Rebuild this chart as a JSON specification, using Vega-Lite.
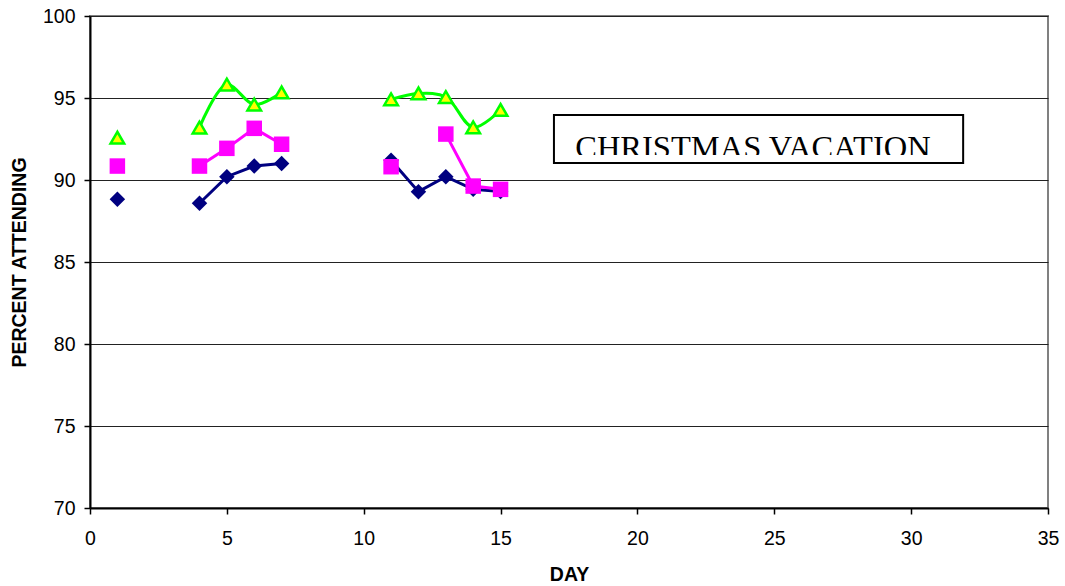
{
  "$schema": "https://vega.github.io/schema/vega-lite/v6.json",
  "width": 958,
  "height": 492,
  "autosize": {"type": "none"},
  "padding": {"left": 90, "top": 16, "right": 17, "bottom": 78},
  "background": "white",
  "config": {
    "font": "Liberation Sans",
    "view": {"stroke": "#808080", "strokeWidth": 2},
    "axis": {
      "labelFont": "Liberation Sans",
      "titleFont": "Liberation Sans",
      "labelColor": "#000000",
      "titleColor": "#000000",
      "domainColor": "#000000",
      "tickColor": "#000000",
      "domainWidth": 2,
      "tickWidth": 1.5,
      "tickSize": 6,
      "labelFontSize": 19.5,
      "titleFontSize": 19.5,
      "titleFontWeight": "bold"
    }
  },
  "datasets": {
    "att": [
      {"series": "A", "seg": "a", "day": 1, "pct": 88.83},
      {"series": "A", "seg": "b", "day": 4, "pct": 88.58},
      {"series": "A", "seg": "b", "day": 5, "pct": 90.2},
      {"series": "A", "seg": "b", "day": 6, "pct": 90.85},
      {"series": "A", "seg": "b", "day": 7, "pct": 91.01},
      {"series": "A", "seg": "c", "day": 11, "pct": 91.2},
      {"series": "A", "seg": "c", "day": 12, "pct": 89.29},
      {"series": "A", "seg": "c", "day": 13, "pct": 90.2},
      {"series": "A", "seg": "c", "day": 14, "pct": 89.43},
      {"series": "A", "seg": "c", "day": 15, "pct": 89.3},
      {"series": "B", "seg": "a", "day": 1, "pct": 90.85},
      {"series": "B", "seg": "b", "day": 4, "pct": 90.85},
      {"series": "B", "seg": "b", "day": 5, "pct": 91.93},
      {"series": "B", "seg": "b", "day": 6, "pct": 93.15},
      {"series": "B", "seg": "b", "day": 7, "pct": 92.18},
      {"series": "B", "seg": "c1", "day": 11, "pct": 90.81},
      {"series": "B", "seg": "c2", "day": 13, "pct": 92.8},
      {"series": "B", "seg": "c2", "day": 14, "pct": 89.63},
      {"series": "B", "seg": "c2", "day": 15, "pct": 89.43},
      {"series": "C", "seg": "a", "day": 1, "pct": 92.58},
      {"series": "C", "seg": "b", "day": 4, "pct": 93.2},
      {"series": "C", "seg": "b", "day": 5, "pct": 95.82},
      {"series": "C", "seg": "b", "day": 6, "pct": 94.6},
      {"series": "C", "seg": "b", "day": 7, "pct": 95.34},
      {"series": "C", "seg": "c", "day": 11, "pct": 94.92},
      {"series": "C", "seg": "c", "day": 12, "pct": 95.28},
      {"series": "C", "seg": "c", "day": 13, "pct": 95.06},
      {"series": "C", "seg": "c", "day": 14, "pct": 93.21},
      {"series": "C", "seg": "c", "day": 15, "pct": 94.27}
    ],
    "note": [
      {"x1": 16.95, "x2": 31.9, "y1": 93.96, "y2": 91.04, "cx1": 17.03, "cx2": 31.82, "cy1": 91.53, "cy2": 91.1, "tx": 24.22, "ty": 91.37, "label": "CHRISTMAS VACATION"}
    ]
  },
  "layer": [
    {
      "data": {"name": "att"},
      "transform": [{"filter": "datum.series === 'A'"}],
      "mark": {"type": "line", "strokeWidth": 3, "color": "#000080"},
      "encoding": {
        "x": {
          "field": "day", "type": "quantitative",
          "scale": {"domain": [0, 35], "nice": false, "zero": false},
          "axis": {"values": [0, 5, 10, 15, 20, 25, 30, 35], "grid": false, "title": "DAY", "labelPadding": 15, "titlePadding": 17.5, "labelFlush": false}
        },
        "y": {
          "field": "pct", "type": "quantitative",
          "scale": {"domain": [70, 100], "nice": false, "zero": false},
          "axis": {"values": [70, 75, 80, 85, 90, 95, 100], "grid": true, "gridColor": "#222222", "gridWidth": 1, "title": "PERCENT ATTENDING", "labelPadding": 9, "titlePadding": 13, "labelFlush": false}
        },
        "detail": {"field": "seg"}
      }
    },
    {
      "data": {"name": "att"},
      "transform": [{"filter": "datum.series === 'A'"}],
      "mark": {"type": "point", "shape": "diamond", "filled": true, "size": 240, "color": "#000080", "opacity": 1},
      "encoding": {
        "x": {"field": "day", "type": "quantitative", "title": "DAY"},
        "y": {"field": "pct", "type": "quantitative", "title": "PERCENT ATTENDING"}
      }
    },
    {
      "data": {"name": "att"},
      "transform": [{"filter": "datum.series === 'B'"}],
      "mark": {"type": "line", "strokeWidth": 3, "color": "#FF00FF"},
      "encoding": {
        "x": {"field": "day", "type": "quantitative", "title": "DAY"},
        "y": {"field": "pct", "type": "quantitative", "title": "PERCENT ATTENDING"},
        "detail": {"field": "seg"}
      }
    },
    {
      "data": {"name": "att"},
      "transform": [{"filter": "datum.series === 'B'"}],
      "mark": {"type": "point", "shape": "square", "filled": true, "size": 240, "color": "#FF00FF", "opacity": 1},
      "encoding": {
        "x": {"field": "day", "type": "quantitative", "title": "DAY"},
        "y": {"field": "pct", "type": "quantitative", "title": "PERCENT ATTENDING"}
      }
    },
    {
      "data": {"name": "att"},
      "transform": [{"filter": "datum.series === 'C'"}],
      "mark": {"type": "line", "strokeWidth": 3, "color": "#00FF00", "interpolate": "catmull-rom"},
      "encoding": {
        "x": {"field": "day", "type": "quantitative", "title": "DAY"},
        "y": {"field": "pct", "type": "quantitative", "title": "PERCENT ATTENDING"},
        "detail": {"field": "seg"}
      }
    },
    {
      "data": {"name": "att"},
      "transform": [{"filter": "datum.series === 'C'"}],
      "mark": {"type": "point", "shape": "triangle-up", "filled": true, "size": 185, "fill": "#FFFF00", "stroke": "#00FF00", "strokeWidth": 2.5, "opacity": 1, "fillOpacity": 1, "strokeOpacity": 1},
      "encoding": {
        "x": {"field": "day", "type": "quantitative", "title": "DAY"},
        "y": {"field": "pct", "type": "quantitative", "title": "PERCENT ATTENDING"}
      }
    },
    {
      "data": {"name": "note"},
      "mark": {"type": "rect", "fill": "#FFFFFF", "stroke": "#000000", "strokeWidth": 2},
      "encoding": {
        "x": {"field": "x1", "type": "quantitative", "title": "DAY"},
        "x2": {"field": "x2"},
        "y": {"field": "y1", "type": "quantitative", "title": "PERCENT ATTENDING"},
        "y2": {"field": "y2"}
      }
    },
    {
      "data": {"name": "note"},
      "mark": {"type": "text", "font": "Liberation Serif", "fontSize": 32.5, "align": "center", "baseline": "alphabetic", "color": "#000000"},
      "encoding": {
        "x": {"field": "tx", "type": "quantitative", "title": "DAY"},
        "y": {"field": "ty", "type": "quantitative", "title": "PERCENT ATTENDING"},
        "text": {"field": "label"}
      }
    },
    {
      "data": {"name": "note"},
      "mark": {"type": "rect", "fill": "#FFFFFF", "strokeWidth": 0},
      "encoding": {
        "x": {"field": "cx1", "type": "quantitative", "title": "DAY"},
        "x2": {"field": "cx2"},
        "y": {"field": "cy1", "type": "quantitative", "title": "PERCENT ATTENDING"},
        "y2": {"field": "cy2"}
      }
    }
  ]
}
